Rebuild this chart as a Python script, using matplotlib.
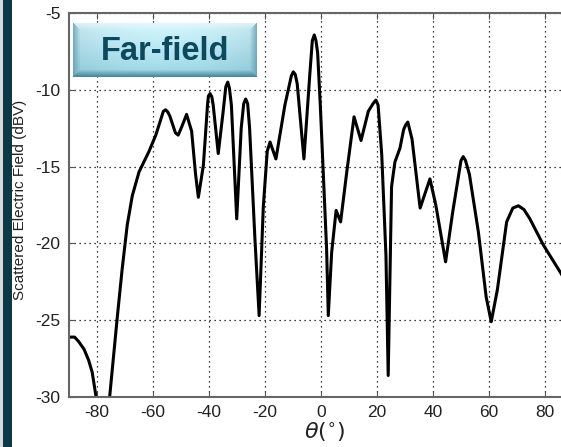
import numpy as np
import matplotlib
matplotlib.use('Agg')
import matplotlib.pyplot as plt
from matplotlib.patches import Rectangle

plt.rcParams['font.family'] = ['Liberation Sans', 'DejaVu Sans']
plt.rcParams['axes.unicode_minus'] = False

# curve (theta in degrees, field in dBV)
theta = [-90, -88, -86.5, -84.6, -83, -81.7, -78.2, -76.8, -72.7, -71.0,
         -69.2, -67.4, -65, -61.4, -59.0, -57, -56.3, -55.5, -54.7, -54,
         -52, -51, -49.5, -48, -46.2, -44.8, -43.8, -42, -40.5, -40.2,
         -39.6, -39, -38.5, -36.7, -35, -34, -33.3, -32.7, -32, -30.1,
         -28.5, -27.6, -26.9, -26.2, -25.5, -23.6, -22.1, -20.6, -19.2, -18.2,
         -16.1, -12.9, -10.6, -9.9, -9.2, -8.5, -6.1, -4, -3.1, -2.4,
         -1.8, -1.2, -0.25, 2.0, 2.6, 3.8, 5.4, 7.0, 9.2, 11.8,
         14.3, 16.9, 18.6, 19.6, 20.4, 21.7, 23.2, 24.0, 25.2, 26.4,
         28.2, 29.5, 30.2, 31.0, 32.5, 35.4, 38.9, 41, 44.5, 47,
         50.0, 50.8, 51.6, 53, 56.2, 59, 60.8, 63, 66.3, 68.5,
         70.5, 72.5, 74.6, 79.4, 85.7, 90]
field = [-26.1, -26.1, -26.4, -26.9, -27.6, -28.4, -32.5, -32.5, -24.7, -21.65,
         -18.8, -16.9, -15.35, -14.0, -12.95, -11.8, -11.4, -11.3, -11.45, -11.7,
         -12.8, -12.95, -12.3, -11.6, -12.7, -15.5, -17.0, -14.9, -10.9, -10.4,
         -10.25, -10.45, -11.0, -14.15, -11.5, -9.8, -9.5, -9.9, -11.0, -18.4,
         -12.5, -10.9, -10.6, -10.9, -12.5, -19.7, -24.7, -17.6, -14.0, -13.4,
         -14.5, -11.0, -9.1, -8.83, -9.0, -9.6, -14.5, -9.0, -6.8, -6.43,
         -6.8, -7.6, -11.0, -20.35, -24.7, -20.6, -17.85, -18.6, -15.35, -11.76,
         -13.3, -11.4, -10.9, -10.67, -11.0, -14.25, -20.8, -28.6, -16.3, -14.7,
         -13.8, -12.6, -12.3, -12.1, -13.2, -17.7, -15.8, -17.5, -21.2, -18.0,
         -14.6, -14.35, -14.6, -15.5, -19.25, -23.5, -25.1, -23.0, -18.6, -17.7,
         -17.55, -17.8, -18.4, -20.1, -21.95, -23.3]

xticks = [-80, -60, -40, -20, 0, 20, 40, 60, 80]
yticks = [-30, -25, -20, -15, -10, -5]

W, H = 561, 447
fig = plt.figure(figsize=(W / 100, H / 100), dpi=100)
fig.patch.set_facecolor('white')

# dark strip on the left edge
fig.patches.append(Rectangle((0, 0), 3 / W, 1, transform=fig.transFigure,
                             facecolor='#d8d8d8', edgecolor='none'))
fig.patches.append(Rectangle((3 / W, 0), 9 / W, 1, transform=fig.transFigure,
                             facecolor='#0c3947', edgecolor='none'))

ax = fig.add_axes([69 / W, (H - 397) / H, 504 / W, 384 / H])
ax.plot(theta, field, color='black', linewidth=2.2, solid_joinstyle='round')
ax.set_xlim(-90, 90)
ax.set_ylim(-30, -5)
ax.set_xticks(xticks)
ax.set_yticks(yticks)
ax.grid(True, color='black', linestyle=(0, (1, 3)), linewidth=0.9)
ax.tick_params(direction='in', length=4, top=True, right=True,
               labelsize=12.5, colors='#555555', labelcolor='#222222', pad=6)
for s in ax.spines.values():
    s.set_color('#666666')
    s.set_linewidth(1.5)

fig.text(20 / W, 1 - 200 / H, 'Scattered Electric Field (dBV)', rotation=90,
         ha='center', va='center', fontsize=11, color='#222222')
fig.text(325 / W, 1 - 432 / H, r"$\theta(^{\circ})$", ha='center', va='center',
         fontsize=16, color='#222222')

# "Far-field" badge with a bevelled gradient
bx = fig.add_axes([73 / W, 1 - 77 / H, 184 / W, 54 / H])
bw, bh = 184, 54
yy = np.linspace(0, 1, bh)[:, None, None]
xx = np.linspace(-1, 1, bw)[None, :, None]
top = np.array([0.78, 0.91, 0.94])
bot = np.array([0.55, 0.78, 0.84])
img = top * (1 - yy) + bot * yy
img = img + 0.06 * (1 - xx ** 2)
img = np.broadcast_to(img, (bh, bw, 3)).copy()
b = 7
light = np.array([0.93, 0.97, 0.98])
dark = np.array([0.22, 0.46, 0.54])
side = np.array([0.36, 0.60, 0.68])
for i in range(b):
    t = 1 - i / b
    img[i, i:bw - i] = img[i, i:bw - i] * (1 - 0.7 * t) + light * 0.7 * t
    img[bh - 1 - i, i:bw - i] = img[bh - 1 - i, i:bw - i] * (1 - 0.8 * t) + dark * 0.8 * t
    img[i + 1:bh - 1 - i, i] = img[i + 1:bh - 1 - i, i] * (1 - 0.7 * t) + side * 0.7 * t
    img[i + 1:bh - 1 - i, bw - 1 - i] = img[i + 1:bh - 1 - i, bw - 1 - i] * (1 - 0.7 * t) + side * 0.7 * t
bx.imshow(np.clip(img, 0, 1), aspect='auto', extent=[0, 1, 0, 1])
bx.set_axis_off()
bx.text(0.5, 0.48, 'Far-field', ha='center', va='center', fontsize=23.5,
        fontweight='bold', color='#0b4a5e', transform=bx.transAxes)

fig.savefig('out.png', dpi=100)
